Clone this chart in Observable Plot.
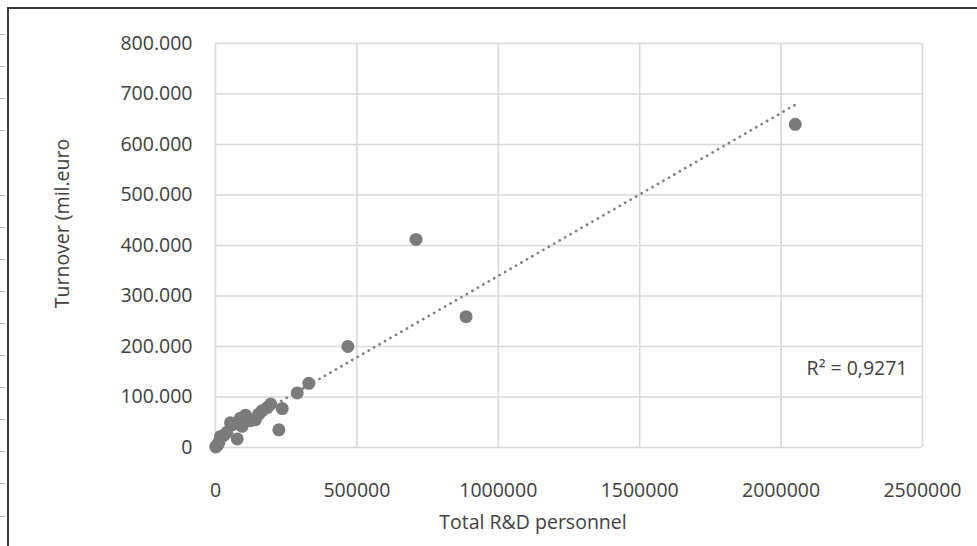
<!DOCTYPE html>
<html>
<head>
<meta charset="utf-8">
<script src="https://cdn.jsdelivr.net/npm/d3@7"></script>
<script src="https://cdn.jsdelivr.net/npm/@observablehq/plot@0.6"></script>
<style>
  html, body { margin: 0; padding: 0; background: #fff; }
  #wrap { position: relative; width: 977px; height: 546px; overflow: hidden; background: #fff; }
  #wrap svg { position: absolute; left: 0; top: 0; }
  .frame-top { position: absolute; left: 7px; top: 7px; width: 970px; height: 2px; background: #3a3a3a; }
  .frame-left { position: absolute; left: 7px; top: 7px; width: 2px; height: 539px; background: #3a3a3a; }
  .rows { position: absolute; left: 0; top: 2.7px; width: 5px; height: 543px;
    background: repeating-linear-gradient(to bottom, transparent 0, transparent 31.1px, #b5b5b5 31.1px, #b5b5b5 32.1px); }
</style>
</head>
<body>
<div id="wrap">
  <div class="rows"></div>
  <div class="frame-top"></div>
  <div class="frame-left"></div>
</div>
<script>
// ---- data ----
const personnel = [2050000, 709000, 886000, 468000, 330000, 289000, 224000, 236000, 195000, 183000,
                   165000, 153000, 141000, 124000, 106000, 94000, 88000, 77000, 53000, 60000,
                   29000, 18000, 12000, 3000, 1000, 8000, 40000];
const turnover  = [640000, 412000, 259000, 200000, 127000, 108000, 35000, 77000, 86000, 79000,
                   73000, 66000, 55000, 53000, 64000, 42000, 58000, 17000, 49000, 45000,
                   24000, 22000, 10000, 3000, 1000, 5000, 30000];

const xTicks = [0, 500000, 1000000, 1500000, 2000000, 2500000];
const xTickLabels = ["0", "500000", "1000000", "1500000", "2000000", "2500000"];
const yTicks = [0, 100000, 200000, 300000, 400000, 500000, 600000, 700000, 800000];
const yTickLabels = ["0", "100.000", "200.000", "300.000", "400.000", "500.000", "600.000", "700.000", "800.000"];

const xTitle = "Total R&D personnel";
const yTitle = "Turnover (mil.euro";
const r2Label = "R² = 0,9271";

const data = personnel.map((x, i) => ({x, y: turnover[i]}));

const textColor = "#404040";
const gridColor = "#d9d9d9";

const chart = Plot.plot({
  width: 977,
  height: 546,
  marginLeft: 215,
  marginRight: 55,
  marginTop: 43,
  marginBottom: 99,
  style: {fontFamily: "'Open Sans', sans-serif", fontSize: "19.5px", color: textColor, background: "transparent", overflow: "visible"},
  x: {domain: [0, 2500000], ticks: xTicks, tickFormat: d => xTickLabels[xTicks.indexOf(d)], tickSize: 0, tickPadding: 36, label: null},
  y: {domain: [0, 800000], ticks: yTicks, tickFormat: d => yTickLabels[yTicks.indexOf(d)], tickSize: 0, tickPadding: 23, label: null},
  marks: [
    Plot.ruleX(xTicks, {stroke: gridColor, strokeWidth: 1.6}),
    Plot.ruleY(yTicks, {stroke: gridColor, strokeWidth: 1.6}),
    Plot.linearRegressionY(data, {x: "x", y: "y", ci: 0, stroke: "#7f7f7f", strokeWidth: 2.7, strokeDasharray: "0.1 6.2", strokeLinecap: "round"}),
    Plot.dot(data, {x: "x", y: "y", r: 6.5, fill: "#7b7b7b", stroke: "none"}),
    Plot.text([r2Label], {frameAnchor: "top-right", dx: -15, dy: 325, textAnchor: "end", lineAnchor: "middle", fill: textColor, fontSize: 19.5}),
    Plot.text([xTitle], {frameAnchor: "bottom", dx: -36, dy: 75, textAnchor: "middle", lineAnchor: "middle", fill: textColor, fontSize: 19.5}),
    Plot.text([yTitle], {frameAnchor: "left", dx: -153, dy: -22, rotate: -90, textAnchor: "middle", lineAnchor: "middle", fill: textColor, fontSize: 19.5})
  ]
});
document.getElementById("wrap").appendChild(chart);
</script>
</body>
</html>
